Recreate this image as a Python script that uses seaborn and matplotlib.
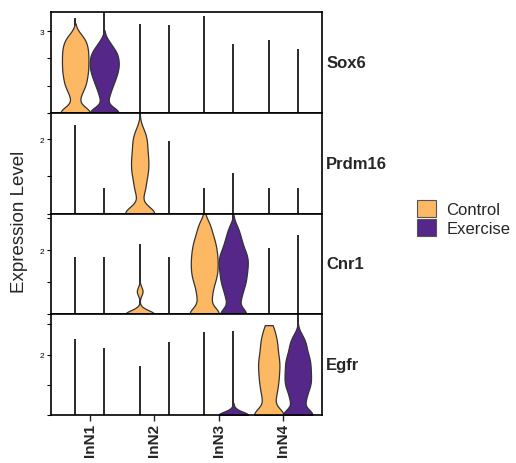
import matplotlib
matplotlib.use("Agg")
import matplotlib.pyplot as plt
import seaborn as sns
import pandas as pd
from matplotlib.patches import Patch

genes = ["Sox6", "Prdm16", "Cnr1", "Egfr"]
clusters = ["InN1", "InN2", "InN3", "InN4"]
conditions = ["Control", "Exercise"]
colors = ["#FDB863", "#542788"]

# y-axis upper limits and the single labelled tick per gene
y_top = [3.70, 2.71, 3.15, 3.33]
y_ticks = [[0, 1, 2, 3], [0, 1, 2], [0, 1, 2, 3], [0, 1, 2, 3]]
y_label_tick = [3, 2, 2, 2]

# maximum expression value of every group
# order: InN1-Control, InN1-Exercise, InN2-Control, InN2-Exercise, ...
sox6_max = [3.47, 3.69, 3.26, 3.22, 3.57, 2.52, 2.67, 2.33]
prdm16_max = [2.39, 0.69, 2.75, 1.94, 0.69, 1.10, 0.69, 0.69]
cnr1_max = [1.79, 1.79, 2.20, 1.79, 3.15, 3.14, 2.08, 2.49]
egfr_max = [2.51, 2.20, 1.63, 2.42, 2.73, 2.78, 2.97, 3.35]

# bulk expression values of the groups that show a visible violin body
sox6_inn1_control = [0, 0, 0, 0, 0, 0, 0.52, 0.76, 0.93, 1.03, 1.15, 1.27, 1.38, 1.48,
                     1.58, 1.68, 1.78, 1.88, 1.98, 2.08, 2.18, 2.28, 2.38, 2.48, 2.60,
                     2.72, 2.84]
sox6_inn1_exercise = [0, 0, 0, 0, 0, 0, 0.51, 0.74, 0.92, 1.05, 1.18, 1.28, 1.38, 1.47,
                      1.56, 1.64, 1.72, 1.80, 1.88, 1.96, 2.05, 2.13, 2.22, 2.30, 2.43,
                      2.62]
prdm16_inn2_control = [0, 0, 0, 0, 0, 0, 0, 0, 0.52, 0.67, 0.81, 0.95, 1.06, 1.16, 1.25,
                       1.35, 1.45, 1.54, 1.65, 1.76, 1.88, 1.99, 2.10, 2.25]
cnr1_inn2_control = [0, 0, 0, 0, 0, 0, 0, 0, 0, 0, 0.70, 0.74]
cnr1_inn3_control = [0, 0, 0, 0, 0, 0, 0.37, 0.52, 0.67, 0.82, 0.96, 1.06, 1.16, 1.25,
                     1.35, 1.43, 1.52, 1.61, 1.70, 1.79, 1.88, 1.97, 2.07, 2.17, 2.28,
                     2.38, 2.52, 2.70, 2.86]
cnr1_inn3_exercise = [0, 0, 0, 0, 0, 0.37, 0.51, 0.65, 0.78, 0.89, 0.98, 1.07, 1.16,
                      1.25, 1.34, 1.42, 1.50, 1.58, 1.66, 1.74, 1.82, 1.90, 1.98, 2.10,
                      2.23, 2.35, 2.52, 2.72]
egfr_inn3_exercise = [0, 0, 0, 0, 0, 0, 0, 0, 0, 0, 0, 0, 0.10, 0.20]
egfr_inn4_control = [0, 0, 0, 0, 0, 0, 0, 0.42, 0.57, 0.72, 0.86, 0.98, 1.10, 1.21, 1.32,
                     1.43, 1.54, 1.64, 1.74, 1.84, 1.95, 2.07, 2.20, 2.33, 2.46, 2.58,
                     2.76, 2.97]
egfr_inn4_exercise = [0, 0, 0, 0, 0, 0, 0.36, 0.49, 0.61, 0.74, 0.86, 0.94, 1.02, 1.10,
                      1.19, 1.27, 1.35, 1.44, 1.52, 1.61, 1.70, 1.78, 1.87, 1.96, 2.07,
                      2.20, 2.32, 2.45, 2.62]

# (cluster, condition, values, kde bandwidth adjustment, kde cut)
violins = {
    "Sox6": [("InN1", "Control", sox6_inn1_control, 0.45, 2),
             ("InN1", "Exercise", sox6_inn1_exercise, 0.45, 2)],
    "Prdm16": [("InN2", "Control", prdm16_inn2_control, 0.45, 2)],
    "Cnr1": [("InN2", "Control", cnr1_inn2_control, 0.75, 2),
             ("InN3", "Control", cnr1_inn3_control, 0.45, 2),
             ("InN3", "Exercise", cnr1_inn3_exercise, 0.45, 2)],
    "Egfr": [("InN3", "Exercise", egfr_inn3_exercise, 3.0, 2),
             ("InN4", "Control", egfr_inn4_control, 0.45, 0),
             ("InN4", "Exercise", egfr_inn4_exercise, 0.45, 2)],
}
group_max = {"Sox6": sox6_max, "Prdm16": prdm16_max, "Cnr1": cnr1_max, "Egfr": egfr_max}

sns.set_theme(style="white")
plt.rcParams["font.family"] = ["Liberation Sans", "DejaVu Sans"]

fig, axes = plt.subplots(4, 1, figsize=(5.16, 4.64), dpi=100)
fig.subplots_adjust(left=0.0988, right=0.624, top=0.972, bottom=0.1034, hspace=0)

palette = dict(zip(conditions, colors))
edge = "#333333"
width = 0.9
dodge_off = width / len(conditions) / 2

for gi, (gene, ax) in enumerate(zip(genes, axes)):
    # every group: a thin line from 0 up to its maximum value
    gm = group_max[gene]
    xs, tops = [], []
    for ci, cl in enumerate(clusters):
        for hi, cond in enumerate(conditions):
            xs.append(ci + (hi - 0.5) * 2 * dodge_off)
            tops.append(gm[ci * len(conditions) + hi])
    ax.vlines(xs, 0, tops, color="#2a2a2a", linewidth=1.4, zorder=0.5)

    # violin bodies
    for cl, cond, vals, bw, cut in violins[gene]:
        df = pd.DataFrame({"cluster": [cl] * len(vals), "condition": [cond] * len(vals),
                           "value": vals})
        sns.violinplot(data=df, x="cluster", y="value", hue="condition", order=clusters,
                       hue_order=conditions, palette=palette, saturation=1, width=width,
                       dodge=True, density_norm="width", cut=cut, inner=None,
                       bw_adjust=bw, linewidth=0.9, linecolor=edge, legend=False, ax=ax)

    ax.set_xlim(-0.6, len(clusters) - 0.4)
    ax.set_ylim(0, y_top[gi])
    ax.set_yticks(y_ticks[gi])
    ax.set_yticklabels([str(t) if t == y_label_tick[gi] else "" for t in y_ticks[gi]])
    ax.tick_params(axis="y", direction="out", length=3, width=0.8, labelsize=6,
                   left=True, pad=2, colors="black")
    ax.set_ylabel("")
    ax.set_xlabel("")
    for s in ax.spines.values():
        s.set_visible(True)
        s.set_color("black")
        s.set_linewidth(1.2)
        s.set_zorder(5)
    ax.text(1.015, 0.5, gene, transform=ax.transAxes, fontsize=12, fontweight="bold",
            va="center", ha="left")
    if gi < len(genes) - 1:
        ax.tick_params(axis="x", bottom=False, labelbottom=False)
    else:
        ax.tick_params(axis="x", bottom=True, direction="out", length=4, width=1.0,
                       labelsize=11, pad=2)
        for lab in ax.get_xticklabels():
            lab.set_rotation(90)
            lab.set_fontweight("bold")

fig.text(20 / 516, 1 - 222 / 464, "Expression Level", rotation=90, fontsize=13.5,
         va="center", ha="center")

handles = [Patch(facecolor=c, edgecolor="#555555", linewidth=0.8) for c in colors]
fig.legend(handles, conditions, loc="center left", bbox_to_anchor=(417 / 516, 0.528),
           frameon=False, fontsize=12, handlelength=1.15, handleheight=1.2,
           handletextpad=0.6, labelspacing=0.1, borderpad=0, borderaxespad=0)

fig.savefig("out.png", dpi=100)
